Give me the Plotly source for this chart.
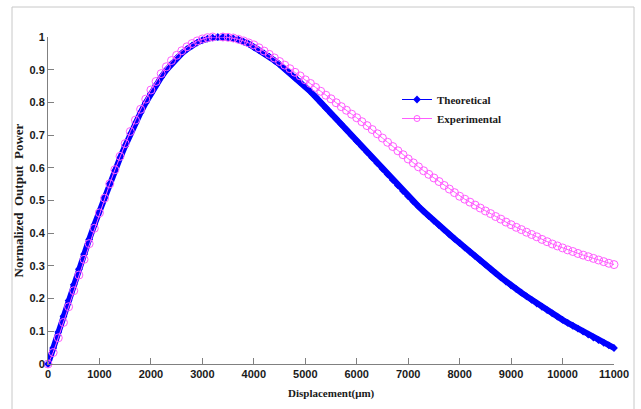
import plotly.graph_objects as go

displacement_um = list(range(0, 11001, 100))

theoretical = [
    0.000, 0.049, 0.098, 0.146, 0.194, 0.242, 0.290, 0.336, 0.381, 0.425,
    0.468, 0.510, 0.551, 0.591, 0.630, 0.667, 0.703, 0.737, 0.769, 0.799,
    0.827, 0.853, 0.877, 0.899, 0.918, 0.935, 0.950, 0.963, 0.974, 0.983,
    0.990, 0.995, 0.998, 1.000, 1.000, 0.999, 0.996, 0.992, 0.986, 0.979,
    0.969, 0.960, 0.950, 0.940, 0.928, 0.916, 0.903, 0.890, 0.876, 0.862,
    0.848, 0.833, 0.817, 0.800, 0.783, 0.766, 0.750, 0.733, 0.716, 0.699,
    0.682, 0.665, 0.648, 0.631, 0.614, 0.597, 0.580, 0.563, 0.546, 0.529,
    0.513, 0.497, 0.482, 0.467, 0.452, 0.438, 0.424, 0.410, 0.396, 0.383,
    0.370, 0.356, 0.343, 0.330, 0.317, 0.304, 0.291, 0.278, 0.265, 0.252,
    0.240, 0.229, 0.218, 0.207, 0.196, 0.185, 0.175, 0.165, 0.155, 0.145,
    0.135, 0.126, 0.117, 0.108, 0.099, 0.090, 0.081, 0.073, 0.065, 0.057,
    0.049,
]

experimental = [
    0.000, 0.035, 0.080, 0.127, 0.175, 0.224, 0.272, 0.320, 0.368, 0.415,
    0.462, 0.507, 0.551, 0.594, 0.635, 0.674, 0.711, 0.746, 0.779, 0.810,
    0.838, 0.864, 0.888, 0.909, 0.928, 0.944, 0.958, 0.970, 0.980, 0.988,
    0.994, 0.998, 1.000, 1.001, 1.000, 0.999, 0.997, 0.993, 0.988, 0.982,
    0.976, 0.967, 0.957, 0.947, 0.936, 0.925, 0.914, 0.903, 0.892, 0.881,
    0.869, 0.858, 0.846, 0.834, 0.822, 0.811, 0.799, 0.787, 0.776, 0.764,
    0.753, 0.741, 0.729, 0.717, 0.704, 0.691, 0.678, 0.665, 0.652, 0.640,
    0.627, 0.615, 0.603, 0.591, 0.580, 0.569, 0.558, 0.546, 0.535, 0.524,
    0.513, 0.504, 0.495, 0.486, 0.477, 0.468, 0.460, 0.451, 0.443, 0.434,
    0.426, 0.418, 0.411, 0.403, 0.396, 0.389, 0.381, 0.374, 0.367, 0.361,
    0.355, 0.349, 0.344, 0.338, 0.333, 0.328, 0.323, 0.318, 0.313, 0.308,
    0.304,
]

x_tick_vals = list(range(0, 11001, 1000))
x_tick_text = [str(v) for v in x_tick_vals]
y_tick_vals = [0, 0.1, 0.2, 0.3, 0.4, 0.5, 0.6, 0.7, 0.8, 0.9, 1]
y_tick_text = ["0", "0.1", "0.2", "0.3", "0.4", "0.5", "0.6", "0.7", "0.8", "0.9", "1"]

SERIF = "Liberation Serif, Times New Roman, serif"
tick_font = dict(family="Liberation Sans Narrow, Arial Narrow, Liberation Sans, Arial",
                 size=11, color="#1a1a1a", weight="bold")

BLUE = "#0000ff"
PINK = "#ff5cff"

fig = go.Figure()
# data traces
fig.add_trace(go.Scatter(
    x=displacement_um, y=theoretical, name="Theoretical", showlegend=False,
    mode="lines+markers",
    line=dict(color=BLUE, width=6),
    marker=dict(symbol="diamond", size=6, color=BLUE, line=dict(width=0)),
    cliponaxis=False,
))
fig.add_trace(go.Scatter(
    x=displacement_um, y=experimental, name="Experimental", showlegend=False,
    mode="lines+markers",
    line=dict(color=PINK, width=1),
    marker=dict(symbol="circle-open", size=8, color=PINK, line=dict(width=1)),
    cliponaxis=False,
))
# legend entries (thin line + small marker, as in the reference key)
fig.add_trace(go.Scatter(
    x=[None], y=[None], name="Theoretical", mode="lines+markers",
    line=dict(color=BLUE, width=1),
    marker=dict(symbol="diamond", size=6, color=BLUE),
))
fig.add_trace(go.Scatter(
    x=[None], y=[None], name="Experimental", mode="lines+markers",
    line=dict(color=PINK, width=1),
    marker=dict(symbol="circle-open", size=6, color=PINK, line=dict(width=1)),
))

L, R, T, B = 48, 27, 37, 45
W, H = 641, 409
pw, ph = W - L - R, H - T - B

def px_to_paper_x(px):
    return (px - L) / pw

def px_to_paper_y(py):
    return (H - B - py) / ph

fig.add_shape(type="rect", xref="paper", yref="paper",
              x0=px_to_paper_x(12), x1=px_to_paper_x(634),
              y0=px_to_paper_y(430), y1=px_to_paper_y(7),
              line=dict(color="#c8c8c8", width=1), fillcolor="rgba(0,0,0,0)", layer="below")

fig.add_annotation(text="Normalized  Output  Power", textangle=-90,
                   xref="paper", yref="paper", x=px_to_paper_x(18), y=0.5,
                   xanchor="center", yanchor="middle", showarrow=False,
                   font=dict(family=SERIF, size=13, color="#1a1a1a", weight="bold"))
fig.add_annotation(text="Displacement(μm)",
                   xref="paper", yref="paper", x=0.5, y=px_to_paper_y(393),
                   xanchor="center", yanchor="middle", showarrow=False,
                   font=dict(family=SERIF, size=11, color="#1a1a1a", weight="bold"))

fig.update_layout(
    width=W, height=H,
    margin=dict(l=L, r=R, t=T, b=B, pad=0, autoexpand=False),
    paper_bgcolor="white", plot_bgcolor="white",
    showlegend=True,
    legend=dict(x=px_to_paper_x(397), y=px_to_paper_y(85), xanchor="left", yanchor="top",
                bgcolor="rgba(0,0,0,0)", borderwidth=0,
                font=dict(family=SERIF, size=11, color="#1a1a1a", weight="bold"),
                tracegroupgap=0, itemwidth=30),
)

fig.update_xaxes(
    range=[0, 11000], tickmode="array", tickvals=x_tick_vals, ticktext=x_tick_text,
    ticks="inside", ticklen=6, tickcolor="#808080", tickwidth=1,
    showline=True, linecolor="#808080", linewidth=1, mirror=False,
    showgrid=False, zeroline=False, tickfont=tick_font, automargin=False,
)
fig.update_yaxes(
    range=[0, 1], tickmode="array", tickvals=y_tick_vals, ticktext=y_tick_text,
    ticks="inside", ticklen=6, tickcolor="#808080", tickwidth=1,
    showline=True, linecolor="#808080", linewidth=1, mirror=False,
    showgrid=False, zeroline=False, tickfont=tick_font, automargin=False,
)

fig.write_html("out.html", config={"displayModeBar": False},
               post_script="document.body.style.margin='0';document.body.style.overflow='hidden';")
